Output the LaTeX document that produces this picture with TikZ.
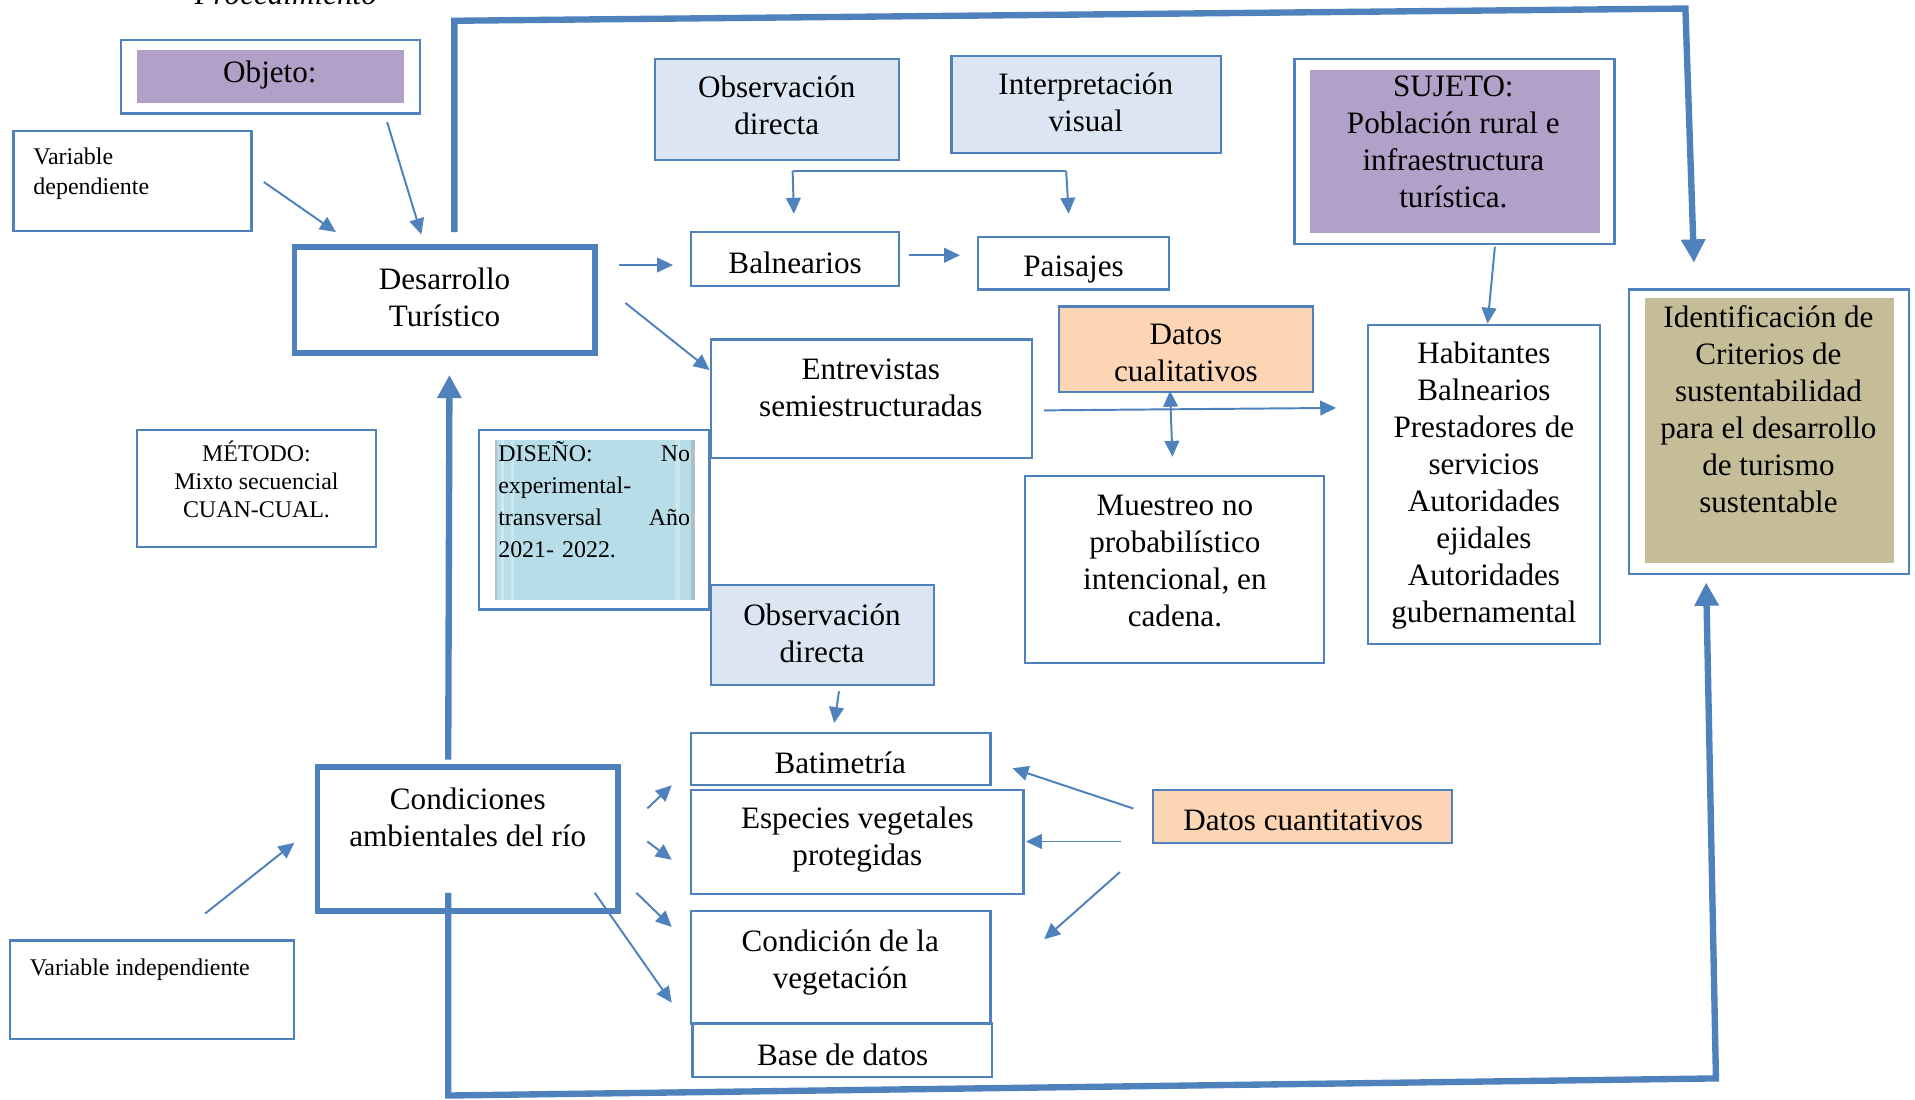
\documentclass[tikz,border=0pt]{standalone}
\usepackage{fontspec}
\setmainfont{Liberation Serif}
\usetikzlibrary{arrows.meta,fit}
\definecolor{bblue}{HTML}{4F81BD}
\definecolor{purp}{HTML}{B1A0C7}
\definecolor{lblue}{HTML}{DCE6F2}
\definecolor{peach}{HTML}{FCD5B4}
\definecolor{olive}{HTML}{C4BD97}
\definecolor{cyanb}{HTML}{B7DEE8}
\newcommand\fmain{\fontsize{12.75pt}{15.15pt}\selectfont}
\newcommand\fsmall{\fontsize{9.8pt}{12.5pt}\selectfont}
\newcommand\fmet{\fontsize{9.8pt}{11.5pt}\selectfont}
\newcommand\fdis{\fontsize{9.8pt}{13pt}\selectfont}
\begin{document}
\begin{tikzpicture}[x=0.5pt,y=-0.5pt,
 bx/.style={draw=bblue, line width=0.9pt, inner sep=0pt},
 thk/.style={draw=bblue, line width=2.3pt, inner sep=0pt},
 fl/.style={draw=none, inner sep=0pt},
 tx/.style={align=center, inner sep=0pt, font=\fmain, yshift=-1.3pt, execute at begin node=\strut, execute at end node=\strut},
 stx/.style={inner sep=0pt, font=\fsmall, yshift=-1pt, execute at begin node=\strut, execute at end node=\strut},
 ar/.style={draw=bblue, line width=0.8pt, -{Triangle[length=6.5pt,width=6pt]}},
 tar/.style={draw=bblue, line width=2.6pt, -{Triangle[length=9.5pt,width=9.5pt]}}
]
\useasboundingbox (0,0) rectangle (1568,900);
\fill[white] (0,0) rectangle (1568,900);

% title (cut off at the top, as in the reference)
\node[font=\fmain\itshape, anchor=base, inner sep=0pt] (title) at (234,4) {Procedimiento};

% Objeto
\node[bx, fit={(99,33)(344,93)}] (objO) {};
\node[fl, fill=purp, fit={(112,41)(331,84)}] (objI) {};
\node[tx] (objT) at (221,59) {Objeto:};

% Variable dependiente
\node[bx, fit={(11,107)(206,189)}] (vdep) {};
\node[stx, anchor=west, align=left] (vdepT) at (27,142) {Variable\\dependiente};

% Desarrollo turistico
\node[thk, fit={(241,202)(487,289)}] (des) {};
\node[tx] (desT) at (364,245) {Desarrollo\\Turístico};

% Observacion directa (top) and Interpretacion visual
\node[bx, fill=lblue, fit={(536,48)(736,131)}] (obs1) {};
\node[tx] (obs1T) at (636,88) {Observación\\directa};
\node[bx, fill=lblue, fit={(779,46)(1000,125)}] (int) {};
\node[tx] (intT) at (889,86) {Interpretación\\visual};

% Balnearios, Paisajes
\node[bx, fit={(566,190)(736,234)}] (bal) {};
\node[tx] (balT) at (651,215) {Balnearios};
\node[bx, fit={(801,194)(957,237)}] (pai) {};
\node[tx] (paiT) at (879,218) {Paisajes};

% Entrevistas
\node[bx, fit={(582,278)(845,375)}] (ent) {};
\node[tx] (entT) at (713,319) {Entrevistas\\semiestructuradas};

% Datos cualitativos
\node[bx, fill=peach, fit={(867,251)(1075,321)}] (dcual) {};
\node[tx] (dcualT) at (971,291) {Datos\\cualitativos};

% Muestreo
\node[bx, fit={(839,390)(1084,543)}] (mue) {};
\node[tx] (mueT) at (962,461) {Muestreo no\\probabilístico\\intencional, en\\cadena.};

% SUJETO
\node[bx, fit={(1060,48)(1322,200)}] (sujO) {};
\node[fl, fill=purp, fit={(1073,57)(1310,191)}] (sujI) {};
\node[tx] (sujT) at (1190,118) {SUJETO:\\Población rural e\\infraestructura\\turística.};

% Habitantes
\node[bx, fit={(1120,266)(1310,527)}] (hab) {};
\node[tx] (habT) at (1215,397) {Habitantes\\Balnearios\\Prestadores de\\servicios\\Autoridades\\ejidales\\Autoridades\\gubernamental};

% Identificacion
\node[bx, fit={(1334,237)(1563,470)}] (idO) {};
\node[fl, fill=olive, fit={(1347,244)(1551,461)}] (idI) {};
\node[tx] (idT) at (1448,337) {Identificación de\\Criterios de\\sustentabilidad\\para el desarrollo\\de turismo\\sustentable};

% METODO
\node[bx, fit={(112,352)(308,448)}] (met) {};
\node[inner sep=0pt, align=center, font=\fmet, execute at begin node=\strut, execute at end node=\strut] (metT) at (210,396) {MÉTODO:\\Mixto secuencial\\CUAN-CUAL.};

% DISENO
\node[bx, fit={(392,352)(581,499)}] (disO) {};
\node[fl, fill=cyanb, fit={(405,360)(569,491)}] (disI) {};
\fill[white, opacity=0.35] (410,360) rectangle (413,491);
\fill[white, opacity=0.3] (418,360) rectangle (421,491);
\fill[white, opacity=0.25] (553,360) rectangle (557,491);
\fill[black!35, opacity=0.5] (405,360) rectangle (407,491);
\fill[black!35, opacity=0.5] (566,360) rectangle (569,491);
\node[inner sep=0pt, text width=78.5pt, align=left, font=\fdis, execute at begin node=\strut, execute at end node=\strut] (disT) at (486.5,412) {DISEÑO:\hfill No\\experimental-\\transversal\hfill Año\\2021- 2022.};

% Observacion directa (bottom)
\node[bx, fill=lblue, fit={(582,479)(765,561)}] (obs2) {};
\node[tx] (obs2T) at (673,520) {Observación\\directa};

% Bottom-right column
\node[bx, fit={(566,600)(811,643)}] (bat) {};
\node[tx] (batT) at (688,625) {Batimetría};
\node[bx, fit={(566,647)(838,732)}] (esp) {};
\node[tx] (espT) at (702,687) {Especies vegetales\\protegidas};
\node[bx, fit={(566,746)(811,838)}] (con) {};
\node[tx] (conT) at (688,787) {Condición de la\\vegetación};
\node[bx, fit={(567,838)(812,882)}] (bdd) {};
\node[tx] (bddT) at (690,864) {Base de datos};

% Datos cuantitativos
\node[bx, fill=peach, fit={(944,647)(1189,690)}] (dcuan) {};
\node[tx] (dcuanT) at (1067,671) {Datos cuantitativos};

% Condiciones ambientales
\node[thk, fit={(260,628)(506,746)}] (cond) {};
\node[tx] (condT) at (383,671) {Condiciones\\ambientales del río};

% Variable independiente
\node[bx, fit={(8,770)(241,851)}] (vind) {};
\node[stx, anchor=west] (vindT) at (24,792) {Variable independiente};

% ---------- connector end points ----------
\coordinate (a1s) at (216,149); \coordinate (a1e) at (275,190);
\coordinate (a2s) at (317,100); \coordinate (a2e) at (345,192);
\coordinate (b1) at (649,140); \coordinate (b2) at (873,140);
\coordinate (b1e) at (650,175); \coordinate (b2e) at (875,175);
\coordinate (a3s) at (744,209); \coordinate (a3e) at (786,209);
\coordinate (a4s) at (507,217); \coordinate (a4e) at (551,217);
\coordinate (a5s) at (512,248); \coordinate (a5e) at (581,303);
\coordinate (a6s) at (855,336); \coordinate (a6e) at (1094,334);
\coordinate (a7s) at (958,320); \coordinate (a7e) at (960,374);
\coordinate (a8s) at (1224,202); \coordinate (a8e) at (1218,265);
\coordinate (a9s) at (687,566); \coordinate (a9e) at (683,592);
\coordinate (q1s) at (928,662); \coordinate (q1e) at (829,629);
\coordinate (q2s) at (918,689); \coordinate (q2e) at (840,689);
\coordinate (q3s) at (917,714); \coordinate (q3e) at (855,769);
\coordinate (vis) at (168,748); \coordinate (vie) at (241,690);
\coordinate (c1s) at (530,662); \coordinate (c1e) at (550,643);
\coordinate (c2s) at (530,689); \coordinate (c2e) at (550,704);
\coordinate (c3s) at (521,731); \coordinate (c3e) at (550,759);
\coordinate (c4s) at (487,731); \coordinate (c4e) at (550,821);
\coordinate (ups) at (367,622); \coordinate (upe) at (368,307);
\coordinate (t0) at (372,190); \coordinate (t1) at (372,17);
\coordinate (t2) at (1380,7); \coordinate (t3) at (1387,215);
\coordinate (u0) at (367,731); \coordinate (u1) at (367,897);
\coordinate (u2) at (1405,883); \coordinate (u3) at (1397,477);

% ---------- connectors ----------
\draw[ar] (a1s) -- (a1e);
\draw[ar] (a2s) -- (a2e);
\draw[draw=bblue, line width=0.8pt] (b1) -- (b2);
\draw[ar] (b1) -- (b1e);
\draw[ar] (b2) -- (b2e);
\draw[ar] (a3s) -- (a3e);
\draw[ar] (a4s) -- (a4e);
\draw[ar] (a5s) -- (a5e);
\draw[ar] (a6s) -- (a6e);
\draw[ar, {Triangle[length=6.5pt,width=6pt]}-{Triangle[length=6.5pt,width=6pt]}] (a7s) -- (a7e);
\draw[ar] (a8s) -- (a8e);
\draw[ar] (a9s) -- (a9e);
\draw[ar] (q1s) -- (q1e);
\draw[ar] (q2s) -- (q2e);
\draw[ar] (q3s) -- (q3e);
\draw[ar] (vis) -- (vie);
\draw[ar] (c1s) -- (c1e);
\draw[ar] (c2s) -- (c2e);
\draw[ar] (c3s) -- (c3e);
\draw[ar] (c4s) -- (c4e);
\draw[tar] (ups) -- (upe);
\draw[tar] (t0) -- (t1) -- (t2) -- (t3);
\draw[tar] (u0) -- (u1) -- (u2) -- (u3);
\end{tikzpicture}
\end{document}
